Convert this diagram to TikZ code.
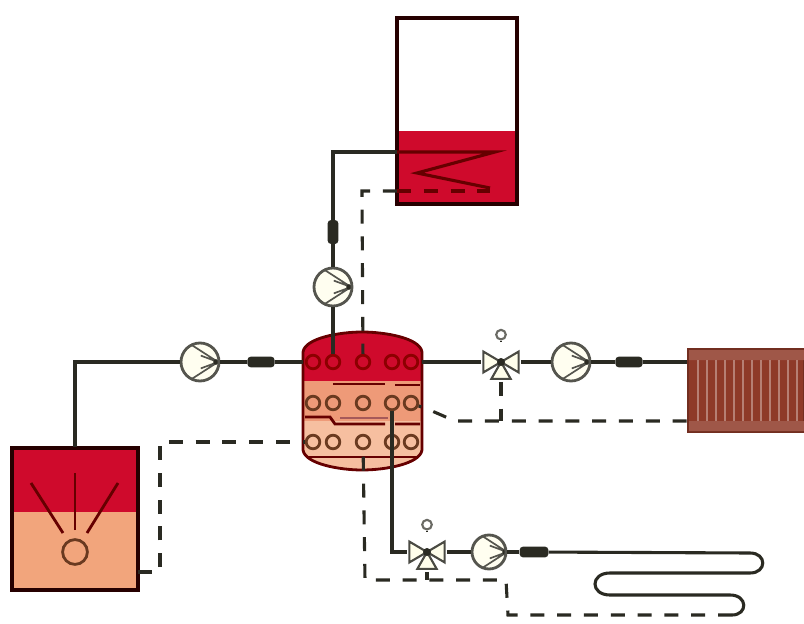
\documentclass[tikz,border=0pt]{standalone}
\usepackage{xcolor}
\usetikzlibrary{arrows.meta, positioning, calc}
\definecolor{hotred}{HTML}{CF0A2C}
\definecolor{midorange}{HTML}{EE9A78}
\definecolor{lowpeach}{HTML}{F6BFA0}
\definecolor{peach}{HTML}{F2A57C}
\definecolor{rusty}{HTML}{8E3A28}
\definecolor{pipeblack}{HTML}{2A2A22}
\definecolor{ringbrown}{HTML}{6A3A20}
\begin{document}
\begin{tikzpicture}[
    x=0.025cm, y=-0.025cm,
    pipe/.style   = {draw=pipeblack, line width=2.2pt},
    sensor/.style = {pipe, dash pattern=on 0.35cm off 0.32cm},
    tank/.style   = {draw=black!85!red, line width=3.4pt, minimum width=3.1cm, inner sep=0pt},
    pump/.style   = {circle, draw=pipeblack!80, line width=2pt, fill=yellow!6, minimum size=0.95cm, inner sep=0pt,
        path picture={\draw[pipeblack!80, line width=1.2pt, fill=white, shift={(path picture bounding box.center)}, rotate=#1]
            (0.45cm,0cm) -- (-0.2cm,0.42cm) (0.45cm,0cm) -- (-0.2cm,-0.42cm)
            (0.45cm,0cm) -- (0.02cm,0.16cm) (0.45cm,0cm) -- (0.02cm,-0.16cm);
            \fill[pipeblack, shift={(path picture bounding box.center)}, rotate=#1] (0.4cm,0cm) circle (0.07cm);}},
    check/.style  = {rounded corners=2.5pt, fill=pipeblack, minimum width=0.68cm, minimum height=0.27cm, inner sep=0pt},
    valve/.style  = {minimum size=0.98cm, inner sep=0pt,
        path picture={\draw[pipeblack!85, line width=1.5pt, fill=yellow!8, shift={(path picture bounding box.center)}]
            (0cm,0cm) -- (-0.44cm,0.26cm) -- (-0.44cm,-0.26cm) -- cycle
            (0cm,0cm) -- (0.44cm,0.26cm) -- (0.44cm,-0.26cm) -- cycle
            (0cm,0cm) -- (-0.24cm,-0.42cm) -- (0.24cm,-0.42cm) -- cycle;
            \fill[pipeblack, shift={(path picture bounding box.center)}] (0cm,0cm) circle (0.1cm);}},
    knob/.style   = {circle, draw=pipeblack!70, line width=1.5pt, fill=white, minimum size=0.24cm, inner sep=0pt},
    ring/.style   = {circle, draw=ringbrown, line width=2pt, minimum size=0.34cm, inner sep=0pt},
    coil/.style   = {draw=black!60!red, line width=2pt}
]
    \useasboundingbox (0,0) rectangle (804,624);

    % storage tanks
    \fill[hotred] (397,131) rectangle (517,204);
    \node[tank, minimum height=4.65cm, minimum width=3cm] (store) at (457,111) {};
    \fill[peach] (12,512) rectangle (138,590);
    \fill[hotred] (12,448) rectangle (138,512);
    \node[tank, minimum height=3.55cm, minimum width=3.15cm] (boiler) at (75,519) {};

    % burner in the lower tank
    \node[ring, minimum size=0.62cm] (burner) at (75,552) {};
    \draw[coil] (burner) ++(-12,-19) -- (31,483);
    \draw[coil] (burner) ++(0,-22) -- (75,473);
    \draw[coil] (burner) ++(12,-19) -- (118,483);

    % layered buffer in the middle
    \begin{scope}
        \clip (303,352) .. controls (305,338) and (340,332) .. (362,332) .. controls (385,332) and (420,338) .. (422,352)
            -- (422,450) .. controls (420,464) and (385,470) .. (362,470) .. controls (340,470) and (305,464) .. (303,450) -- cycle;
        \fill[lowpeach] (300,330) rectangle (425,472);
        \fill[midorange] (300,381) rectangle (425,421);
        \fill[hotred] (300,330) rectangle (425,381);
    \end{scope}
    \draw[draw=black!60!red, line width=2pt] (303,352) .. controls (305,338) and (340,332) .. (362,332) .. controls (385,332) and (420,338) .. (422,352)
        -- (422,450) .. controls (420,464) and (385,470) .. (362,470) .. controls (340,470) and (305,464) .. (303,450) -- cycle;
    \coordinate (bufWest) at (303,362);
    \coordinate (bufEast) at (422,362);
    \draw[coil] (333,384) -- (385,384) (395,385) -- (420,385);
    \draw[coil] (305,417) -- (330,417) -- (335,424) -- (385,424) (395,424) -- (420,424);
    \draw[coil, draw=gray!70!red] (340,418) -- (388,418);
    \draw[coil] (306,457) -- (419,457);

    \foreach \row/\ypos/\tone in {a/362/black!45!red, b/403/ringbrown, c/442/ringbrown}
        \foreach \col/\xpos in {1/313, 2/333, 3/363, 4/392, 5/411}
            \node[ring, draw=\tone] (loop\row\col) at (\xpos,\ypos) {};

    % radiator
    \node[draw=rusty!80!black, line width=1.4pt, fill=rusty, minimum width=2.92cm, minimum height=2.07cm, inner sep=0pt] (radiator) at (746,390.5) {};
    \fill[rusty!85!white] (689,350) rectangle (804,360) (689,421) rectangle (804,431);
    \foreach \xpos in {698,707,716,725,734,743,752,761,770,779,788,797}
        \draw[rusty!65!white, line width=1pt] (\xpos,360) -- (\xpos,421);

    % line parts
    \node[pump=0] (pumpLeft) at (200,362) {};
    \node[check] (checkLeft) at (261,362) {};
    \node[pump=90] (pumpTop) at (333,287) {};
    \node[check, minimum width=0.27cm, minimum height=0.6cm] (checkTop) at (333,232) {};
    \node[valve] (mixRight) at (501,362) {};
    \node[knob, above=0.04cm of mixRight] (knobRight) {};
    \node[pump=0] (pumpRight) at (571,362) {};
    \node[check] (checkRight) at (629,362) {};
    \node[valve] (mixLow) at (427,552) {};
    \node[knob, above=0.04cm of mixLow] (knobLow) {};
    \node[pump=0, minimum size=0.85cm] (pumpLow) at (489,552) {};
    \node[check, minimum width=0.72cm] (checkLow) at (534,552) {};

    % flow lines
    \coordinate (boilerOut) at (75,447);
    \coordinate (cornerLeft) at (75,362);
    \draw[pipe] (boilerOut) -- (cornerLeft) -- (pumpLeft);
    \draw[pipe] (pumpLeft) -- (checkLeft);
    \draw[pipe] (checkLeft) -- (bufWest);
    \draw[pipe] (loopa2) -- (pumpTop);
    \draw[pipe] (pumpTop) -- (checkTop);
    \coordinate (coilIn) at (397,152);
    \draw[pipe] (checkTop) |- (coilIn);
    \draw[coil, line width=2.2pt] (coilIn) -- (495,152) -- (417,173) -- (490,188);
    \draw[pipe] (bufEast) -- (mixRight);
    \draw[pipe] (mixRight) -- (pumpRight);
    \draw[pipe] (pumpRight) -- (checkRight);
    \draw[pipe] (checkRight) -- (radiator.west |- checkRight);
    \draw[pipe, line width=1.6pt] (mixRight) -- (knobRight);
    \draw[pipe, line width=1.6pt] (mixLow) -- (knobLow);
    \draw[pipe] (loopb4) -- (392,552) -- (mixLow);
    \draw[pipe] (mixLow) -- (pumpLow);
    \draw[pipe] (pumpLow) -- (checkLow);
    \coordinate (floorEnd) at (732,615);
    \draw[pipe] (checkLow) -- (750,553) .. controls (767,553) and (767,573) .. (750,573) -- (610,573)
        .. controls (590,573) and (590,595) .. (610,595) -- (730,595)
        .. controls (748,595) and (748,615) .. (floorEnd);

    % return lines
    \draw[sensor] (397,191) -- (362,191) -- (loopa3);
    \draw[sensor, draw=black!60!red] (397,191) -- (490,191);
    \draw[sensor] (radiator.west |- 0,421) -- (455,421) -- (432,411) -- (loopb5);
    \draw[sensor] (mixRight) -- (501,421);
    \draw[sensor] (138,572) -- (160,572) -- (160,442) -- (loopc1);
    \draw[sensor] (floorEnd) -- (508,615) -- (506,580) -- (365,580) -- (loopc3);
    \draw[sensor] (mixLow) -- (427,580);
\end{tikzpicture}
\end{document}
